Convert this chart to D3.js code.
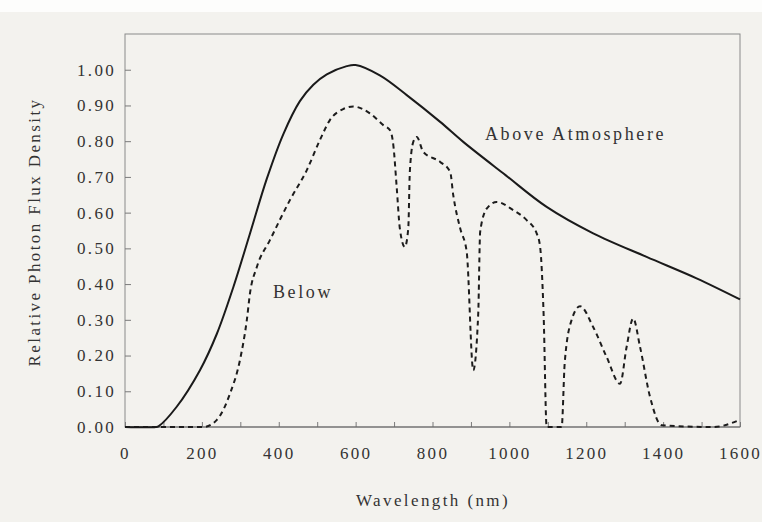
<!DOCTYPE html>
<html>
<head>
<meta charset="utf-8">
<script src="https://cdn.jsdelivr.net/npm/d3@7/dist/d3.min.js"></script>
<style>
  html, body { margin: 0; padding: 0; background: #f3f2ee; }
  svg { display: block; }
</style>
</head>
<body>
<svg id="chart" width="762" height="522"></svg>
<script>
// wavelength (nm) / relative photon flux density
const aboveWl = [0, 80, 87, 134, 195, 239, 282, 325, 369, 412, 455, 490, 525, 577, 600, 663, 733, 820, 880, 990, 1097, 1218, 1357, 1487, 1600];
const aboveVal = [0, 0, 0.002, 0.056, 0.159, 0.261, 0.392, 0.541, 0.695, 0.82, 0.912, 0.958, 0.987, 1.01, 1.013, 0.984, 0.929, 0.854, 0.798, 0.705, 0.616, 0.542, 0.476, 0.416, 0.357];

const belowWl = [0, 204, 239, 273, 299, 317, 325, 343, 377, 429, 473, 507, 533, 568, 594, 637, 672, 690, 698, 707, 715, 728, 737, 741, 750, 759, 776, 820, 846, 854, 872, 889, 906, 919, 924, 941, 967, 1010, 1045, 1071, 1080, 1089, 1097, 1136, 1144, 1162, 1184, 1218, 1253, 1288, 1305, 1322, 1340, 1366, 1396, 1530, 1600];
const belowVal = [0, 0, 0.02, 0.093, 0.187, 0.30, 0.373, 0.448, 0.523, 0.635, 0.719, 0.803, 0.859, 0.89, 0.897, 0.878, 0.845, 0.83, 0.79, 0.669, 0.556, 0.504, 0.556, 0.714, 0.798, 0.812, 0.77, 0.742, 0.714, 0.649, 0.556, 0.49, 0.159, 0.318, 0.546, 0.611, 0.63, 0.607, 0.579, 0.542, 0.504, 0.318, 0, 0, 0.18, 0.30, 0.338, 0.28, 0.196, 0.121, 0.224, 0.304, 0.224, 0.084, 0.005, 0, 0.02];

const yTicks = [0, 0.1, 0.2, 0.3, 0.4, 0.5, 0.6, 0.7, 0.8, 0.9, 1.0];
const xMinorTicks = d3.range(0, 1601, 100);
const xLabelTicks = [0, 200, 400, 600, 800, 1000, 1200, 1400, 1600];

const serif = '"Liberation Serif", "Times New Roman", Times, "DejaVu Serif", serif';

const svg = d3.select('#chart');
const plotLeft = 125, plotRight = 740, plotTop = 34, plotBottom = 427;

svg.append('rect').attr('width', 762).attr('height', 12).attr('fill', '#fdfdfc');

const x = d3.scaleLinear().domain([0, 1600]).range([plotLeft, plotRight]);
const y = d3.scaleLinear().domain([0, 1.1]).range([plotBottom, plotTop]);

// frame
svg.append('rect')
  .attr('x', plotLeft).attr('y', plotTop)
  .attr('width', plotRight - plotLeft).attr('height', plotBottom - plotTop)
  .attr('fill', 'none').attr('stroke', '#8a8a8a').attr('stroke-width', 1);

const yAxis = svg.append('g')
  .attr('transform', `translate(${plotLeft},0)`)
  .call(d3.axisLeft(y).tickValues(yTicks).tickSize(-6).tickPadding(9).tickFormat(d3.format('.2f')));

const xAxis = svg.append('g')
  .attr('transform', `translate(0,${plotBottom})`)
  .call(d3.axisBottom(x).tickValues(xMinorTicks).tickSize(-5).tickFormat(''));

const xLabels = svg.append('g')
  .attr('transform', `translate(0,${plotBottom})`)
  .call(d3.axisBottom(x).tickValues(xLabelTicks).tickSize(0).tickPadding(20).tickFormat(d3.format('d')));

[yAxis, xAxis, xLabels].forEach((g) => {
  g.attr('font-family', serif);
  g.select('.domain').remove();
  g.selectAll('line').attr('stroke', '#7a7a7a');
  g.selectAll('text')
    .attr('font-family', serif)
    .attr('font-size', 17)
    .attr('letter-spacing', '2.3px')
    .attr('fill', '#333');
});

// bottom axis line drawn a bit darker
svg.append('line')
  .attr('x1', plotLeft).attr('x2', plotRight).attr('y1', plotBottom).attr('y2', plotBottom)
  .attr('stroke', '#666').attr('stroke-width', 1.2);

const dashedLine = d3.line()
  .x((d) => x(d[0]))
  .y((d) => y(d[1]))
  .curve(d3.curveMonotoneX);

const solidLine = d3.line()
  .x((d) => x(d[0]))
  .y((d) => y(d[1]))
  .curve(d3.curveCatmullRom.alpha(0.5));

svg.append('path')
  .datum(belowWl.map((w, i) => [w, belowVal[i]]))
  .attr('d', dashedLine)
  .attr('fill', 'none')
  .attr('stroke', '#1c1c1c')
  .attr('stroke-width', 2)
  .attr('stroke-dasharray', '5,4');

svg.append('path')
  .datum(aboveWl.map((w, i) => [w, aboveVal[i]]))
  .attr('d', solidLine)
  .attr('fill', 'none')
  .attr('stroke', '#1a1a1a')
  .attr('stroke-width', 2);

function label(xp, yp, txt, size, spacing, anchor) {
  return svg.append('text')
    .attr('x', xp).attr('y', yp)
    .attr('font-family', serif)
    .attr('font-size', size)
    .attr('letter-spacing', spacing + 'px')
    .attr('text-anchor', anchor || 'start')
    .attr('fill', '#333')
    .text(txt);
}

// curve labels
label(485, 140, 'Above Atmosphere', 18, 2.6);
label(273, 298, 'Below', 18, 2.6);

// axis titles
label(433, 506, 'Wavelength (nm)', 17, 2.4, 'middle');
label(0, 0, 'Relative Photon Flux Density', 17, 2.4, 'middle')
  .attr('transform', 'translate(40,232) rotate(-90)');
</script>
</body>
</html>
